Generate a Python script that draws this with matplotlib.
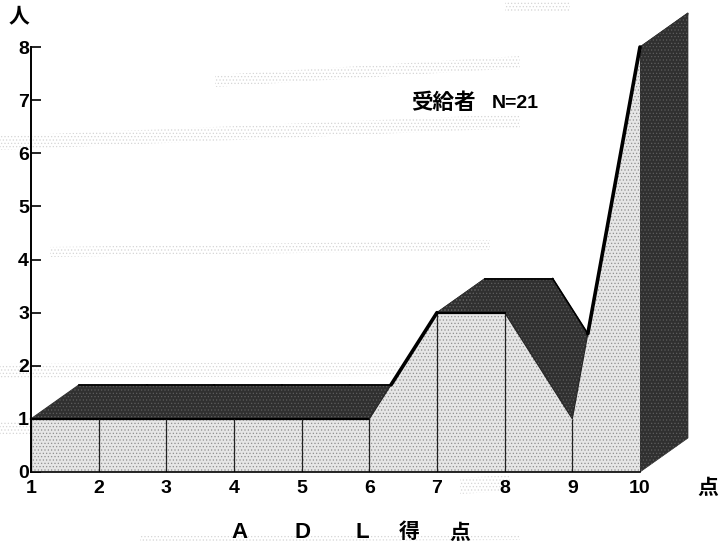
import numpy as np
import matplotlib
matplotlib.use("Agg")
import matplotlib.pyplot as plt
from matplotlib.patches import Polygon

plt.rcParams['font.family'] = ['Noto Sans CJK JP', 'DejaVu Sans']
plt.rcParams['hatch.linewidth'] = 0.5

# ADL得点ごとの人数
puntos = [1, 2, 3, 4, 5, 6, 7, 8, 9, 10]
personas = [1, 1, 1, 1, 1, 1, 3, 3, 1, 8]
y_ticks = [0, 1, 2, 3, 4, 5, 6, 7, 8]

W, H = 725, 543
dx, dy = 48 / 67.67, 34 / 53.1  # profundidad del efecto 3D
oscuro = '#303030'
trama = '#5e5e5e'
claro = '#e6e6e6'

fig = plt.figure(figsize=(W / 100, H / 100), dpi=100)
ax = fig.add_axes([31 / W, (H - 472) / H, 609 / W, 425 / H])
ax.patch.set_visible(False)
ax.set_xlim(1, 10)
ax.set_ylim(0, 8)

# manchas de fondo del escaneo: x0, y0, x1, y1, alto (pixeles)
for x0, y0, x1, y1, alto in [(215, 75, 520, 56, 12), (0, 136, 520, 114, 14), (50, 247, 490, 240, 10),
                             (0, 364, 400, 362, 14), (0, 421, 30, 421, 14), (505, 1, 570, 1, 10),
                             (140, 536, 520, 534, 6), (460, 478, 510, 475, 16)]:
    esquinas = [(x0, y0), (x1, y1), (x1, y1 + alto), (x0, y0 + alto)]
    fig.add_artist(Polygon([(px / W, (H - py) / H) for px, py in esquinas],
                           transform=fig.transFigure, facecolor='none', edgecolor='#d6d6d6',
                           hatch='.....', linewidth=0, zorder=0))

# caras superiores (oscuras)
for i in range(len(puntos) - 1):
    x1, x2 = puntos[i], puntos[i + 1]
    y1, y2 = personas[i], personas[i + 1]
    esquinas = [(x1, y1), (x2, y2), (x2 + dx, y2 + dy), (x1 + dx, y1 + dy)]
    ax.add_patch(Polygon(esquinas, closed=True, facecolor=oscuro, edgecolor=oscuro, linewidth=0.8,
                         clip_on=False, zorder=2))
    # borde trasero solo si se ve
    if (y2 - y1) / (x2 - x1) < dy / dx:
        ax.plot([x1 + dx, x2 + dx], [y1 + dy, y2 + dy], color='black', linewidth=1.2,
                zorder=2.3, clip_on=False)
for i in range(len(puntos) - 1):
    x1, x2 = puntos[i], puntos[i + 1]
    y1, y2 = personas[i], personas[i + 1]
    esquinas = [(x1, y1), (x2, y2), (x2 + dx, y2 + dy), (x1 + dx, y1 + dy)]
    ax.add_patch(Polygon(esquinas, closed=True, facecolor='none', edgecolor=trama, linewidth=0,
                         hatch='.....', clip_on=False, zorder=2.1))

# cara lateral derecha
lado = [(10, 0), (10, personas[-1]), (10 + dx, personas[-1] + dy), (10 + dx, dy)]
ax.add_patch(Polygon(lado, closed=True, facecolor=oscuro, edgecolor=oscuro, linewidth=0.5,
                     clip_on=False, zorder=2.5))
ax.add_patch(Polygon(lado, closed=True, facecolor='none', edgecolor=trama, linewidth=0,
                     hatch='.....', clip_on=False, zorder=2.6))

# cara frontal (clara)
ax.fill_between(puntos, personas, 0, facecolor=claro, edgecolor='#8f8f8f', hatch='.....',
                linewidth=0, zorder=3)
ax.plot(puntos[:6], personas[:6], color='black', linewidth=1.6, zorder=4, clip_on=False)
ax.plot(puntos[5:], personas[5:], color='#222222', linewidth=0.8, zorder=4, clip_on=False)
ax.vlines(puntos[:-1], 0, personas[:-1], color='#222222', linewidth=0.9, zorder=4)
ax.plot(puntos[6:8], personas[6:8], color='black', linewidth=1.6, zorder=4, clip_on=False)

# tramos de subida: linea gruesa donde sale de la cara oscura
for i in range(1, len(puntos) - 1):
    if personas[i + 1] > personas[i]:
        x1, x2 = puntos[i], puntos[i + 1]
        y1, y2 = personas[i], personas[i + 1]
        bx1, bx2 = puntos[i - 1] + dx, puntos[i] + dx
        by1, by2 = personas[i - 1] + dy, personas[i] + dy
        m = (y2 - y1) / (x2 - x1)
        mb = (by2 - by1) / (bx2 - bx1)
        xc = (by1 - mb * bx1 - y1 + m * x1) / (m - mb)
        ax.plot([xc, x2], [y1 + m * (xc - x1), y2], color='black', linewidth=2.6,
                solid_capstyle='round', zorder=5, clip_on=False)

for s in ['top', 'right']:
    ax.spines[s].set_visible(False)
ax.spines['left'].set_linewidth(1.4)
ax.spines['bottom'].set_linewidth(1.2)
ax.spines['left'].set_zorder(6)
ax.spines['bottom'].set_zorder(6)

ax.set_yticks(y_ticks)
ax.set_xticks(puntos)
ax.tick_params(axis='y', direction='in', length=7, width=1.2, pad=1.5, labelsize=14)
ax.tick_params(axis='x', length=0, pad=6, labelsize=14)
for t in ax.get_xticklabels() + ax.get_yticklabels():
    t.set_fontweight('bold')
    t.set_family(['Liberation Sans', 'DejaVu Sans'])

def texto(x, y, s, size=14, **kw):
    fig.text(x / W, (H - y) / H, s, ha='center', va='center', fontsize=size,
             fontweight='bold', **kw)

latin = ['Liberation Sans', 'DejaVu Sans']
texto(19, 16, '人', size=15)
texto(708, 487, '点', size=15)
texto(443, 102, '受給者', size=15.5)
texto(515, 103, 'N=21', size=14, family=latin)
for x, s in zip([240, 302, 362], ['A', 'D', 'L']):
    texto(x, 533, s, size=16, family=latin)
for x, s in zip([409, 460], ['得', '点']):
    texto(x, 532, s, size=15)

fig.savefig('out.png', dpi=100)
